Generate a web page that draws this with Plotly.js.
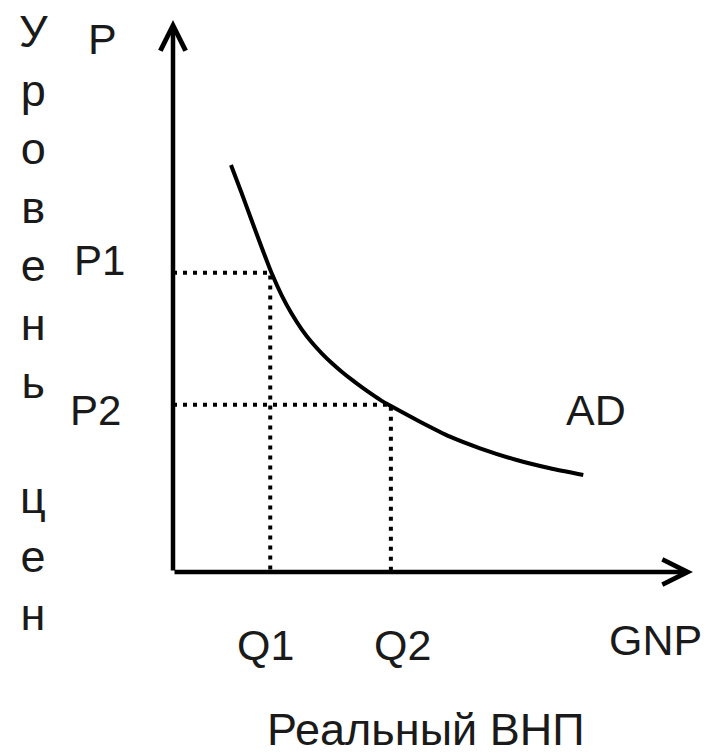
<!DOCTYPE html>
<html>
<head>
<meta charset="utf-8">
<script src="https://cdn.plot.ly/plotly-3.0.1.min.js"></script>
<style>html,body{margin:0;padding:0;background:#fff;}</style>
</head>
<body>
<div id="chart" style="width:708px;height:755px;"></div>
<script>
const adX = [1.115, 1.321, 1.513, 1.706, 1.898, 2.090, 2.283, 2.475, 2.667, 2.860,
             3.052, 3.244, 3.437, 3.629, 3.821, 4.013, 4.173, 4.750, 5.327, 5.904,
             6.610, 7.250, 7.890];
const adY = [7.373, 6.860, 6.368, 5.879, 5.411, 5.013, 4.678, 4.397, 4.161, 3.962,
             3.786, 3.629, 3.484, 3.348, 3.221, 3.100, 3.016, 2.723, 2.451, 2.241,
             2.029, 1.879, 1.757];
// equilibrium points
const qValues = [1.87, 4.19];    // Q1, Q2
const pValues = [5.42, 3.03];    // P1, P2
const qLabels = ['Q1', 'Q2'];
const pLabels = ['P1', 'P2'];
const axisMax = [10, 10];        // x tip, y tip

const FONT = 'Liberation Sans, Arial, sans-serif';
const TXT = '#1a1a1a';

const traces = [];
// dotted guides
for (let i = 0; i < qValues.length; i++) {
  traces.push({
    x: [0, qValues[i], qValues[i]],
    y: [pValues[i], pValues[i], 0],
    mode: 'lines', type: 'scatter', hoverinfo: 'skip', showlegend: false,
    line: {color: '#000', width: 4, dash: '4px,6px'}
  });
}
// AD curve
traces.push({
  x: adX, y: adY, mode: 'lines', type: 'scatter', hoverinfo: 'skip', showlegend: false,
  line: {color: '#000', width: 4, shape: 'spline', smoothing: 0.6}
});

function label(text, x, y, size) {
  return {text: text, xref: 'paper', yref: 'paper', x: x, y: y,
          xanchor: 'center', yanchor: 'middle', showarrow: false,
          font: {family: FONT, size: size || 43, color: TXT}};
}

const annotations = [
  // axes with arrowheads
  {x: axisMax[0], y: 0, ax: 0, ay: 0, xref: 'x', yref: 'y', axref: 'x', ayref: 'y',
   showarrow: true, arrowhead: 5, arrowwidth: 4.5, arrowsize: 1.1, arrowcolor: '#000', text: '', standoff: 0},
  {x: 0, y: axisMax[1], ax: 0, ay: 0, xref: 'x', yref: 'y', axref: 'x', ayref: 'y',
   showarrow: true, arrowhead: 5, arrowwidth: 4.5, arrowsize: 1.1, arrowcolor: '#000', text: '', standoff: 0},
  label('P', -0.1356, 0.9656),
  label(pLabels[0], -0.1404, 0.5652, 42),
  label(pLabels[1], -0.150, 0.2917, 42),
  label(qLabels[0], 0.1788, -0.1322),
  label(qLabels[1], 0.4404, -0.1322),
  label('GNP', 0.9288, -0.1232),
  label('AD', 0.8135, 0.2935),
  label('Реальный ВНП', 0.4865, -0.2845, 45),
  label('У<br>р<br>о<br>в<br>е<br>н<br>ь', -0.2692, 0.6612, 45),
  label('ц<br>е<br>н', -0.2692, 0.029, 45)
];

const layout = {
  width: 708, height: 755,
  margin: {l: 173, r: 15, t: 20, b: 183},
  paper_bgcolor: '#fff', plot_bgcolor: '#fff',
  showlegend: false,
  xaxis: {range: [0, axisMax[0]], showgrid: false, zeroline: false, showline: false,
          showticklabels: false, ticks: '', fixedrange: true},
  yaxis: {range: [0, axisMax[1]], showgrid: false, zeroline: false, showline: false,
          showticklabels: false, ticks: '', fixedrange: true},
  annotations: annotations
};

Plotly.newPlot('chart', traces, layout, {staticPlot: true, displayModeBar: false});
</script>
</body>
</html>
